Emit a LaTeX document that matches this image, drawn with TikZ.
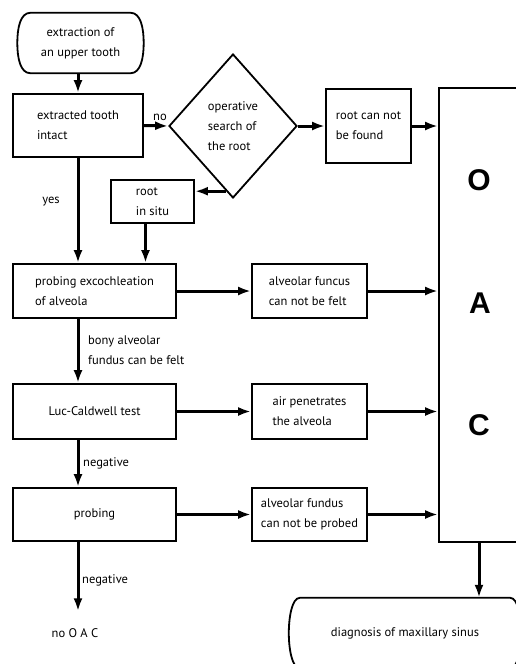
\documentclass[tikz,border=0pt]{standalone}
\usepackage{fontspec}
\setmainfont{PT Sans}
\newfontfamily\oacfont{Liberation Sans}
\usetikzlibrary{shapes.geometric,arrows.meta}
\newcommand\termshape[2]{%
  \draw[line width=1.8pt] ([xshift=#2]#1.north west) -- ([xshift=-#2]#1.north east)
    .. controls ([xshift=-3pt]#1.north east) and ([yshift=15pt]#1.east) .. (#1.east)
    .. controls ([yshift=-15pt]#1.east) and ([xshift=-3pt]#1.south east) .. ([xshift=-#2]#1.south east)
    -- ([xshift=#2]#1.south west)
    .. controls ([xshift=3pt]#1.south west) and ([yshift=-15pt]#1.west) .. (#1.west)
    .. controls ([yshift=15pt]#1.west) and ([xshift=3pt]#1.north west) .. ([xshift=#2]#1.north west) -- cycle;}
\begin{document}
\begin{tikzpicture}[x=1pt,y=-1pt,
  txt/.style={font=\fontsize{12.5}{20}\selectfont},
  box/.style={txt,draw,line width=1.8pt,align=left,inner sep=0pt},
  term/.style={txt,align=center,inner sep=0pt},
  arr/.style={line width=3pt,-{Latex[length=13pt,width=9pt]}},
  lbl/.style={txt,align=left,inner sep=0pt},
  big/.style={font=\oacfont\bfseries\fontsize{30}{30}\selectfont,inner sep=0pt}
]
\clip (0,0) rectangle (516,664);
\fill[white] (0,0) rectangle (516,664);
% nodes
\node[term,minimum width=126pt,minimum height=60pt] (start) at (80.5,43) {extraction of\\an upper tooth};
\termshape{start}{13pt}
\node[box,minimum width=130pt,minimum height=63pt] (ext) at (78,125.5) {extracted tooth\\intact};
\node[box,diamond,minimum width=128pt,minimum height=144pt] (dia) at (233,126) {operative\\search of\\the root};
\node[box,minimum width=85pt,minimum height=74pt] (rcnf) at (368.5,126) {root can not\\be found};
\node[box,minimum width=83pt,minimum height=43pt] (situ) at (152.5,201.5) {root\\in situ};
\node[box,minimum width=92pt,minimum height=454pt] (oac) at (485,315) {};
\node[big] (lo) at (479,180) {O};
\node[big] (la) at (480,303) {A};
\node[big] (lc) at (479,425) {C};
\node[box,minimum width=163pt,minimum height=54pt] (probe1) at (94.5,291) {probing excochleation\\of alveola};
\node[box,minimum width=115pt,minimum height=54pt] (afcnf) at (309.5,291) {alveolar funcus\\can not be felt};
\node[box,minimum width=163pt,minimum height=55pt] (luc) at (94.5,411.5) {Luc-Caldwell test};
\node[box,minimum width=115pt,minimum height=55pt] (air) at (309.5,411.5) {air penetrates\\the alveola};
\node[box,minimum width=163pt,minimum height=53pt] (prob) at (94.5,514.5) {probing};
\node[box,minimum width=115pt,minimum height=53pt] (afnp) at (309.5,514.5) {alveolar fundus\\can not be probed};
\node[lbl] (nooac) at (75,633) {no O A C};
\node[term,minimum width=232pt,minimum height=70pt] (diag) at (405,633) {diagnosis of maxillary sinus};
\termshape{diag}{11pt}
% labels
\node[lbl] (lno) at (160,117) {no};
\node[lbl] (lyes) at (51,202) {yes};
\node[lbl,anchor=west] (lbony) at (88,350) {bony alveolar\\fundus can be felt};
\node[lbl,anchor=west] (lneg1) at (83,463) {negative};
\node[lbl,anchor=west] (lneg2) at (82,580) {negative};
% connectors
\draw[arr] (start.south -| ext.south) -- (ext.north);
\draw[arr] (ext.east) -- (dia.west);
\draw[arr] (dia.east) -- (rcnf.west);
\draw[arr] (rcnf.east) -- (rcnf.east -| oac.west);
\draw[arr] (dia.264) -- (dia.264 -| situ.east);
\draw[arr] ([xshift=-7pt]situ.south) -- ([xshift=-7pt]situ.south |- probe1.north);
\draw[arr] (ext.south) -- (ext.south |- probe1.north);
\draw[arr] (probe1.east) -- (afcnf.west);
\draw[arr] (afcnf.east) -- (afcnf.east -| oac.west);
\draw[arr] (ext.south |- probe1.south) -- (ext.south |- luc.north);
\draw[arr] (luc.east) -- (air.west);
\draw[arr] (air.east) -- (air.east -| oac.west);
\draw[arr] (ext.south |- luc.south) -- (ext.south |- prob.north);
\draw[arr] (prob.east) -- (afnp.west);
\draw[arr] (afnp.east) -- (afnp.east -| oac.west);
\draw[arr] (ext.south |- prob.south) -- ([yshift=17pt]nooac.north -| ext.south);
\draw[arr] ([xshift=-6pt]oac.south) -- ([xshift=-6pt]oac.south |- diag.north);
\end{tikzpicture}
\end{document}
